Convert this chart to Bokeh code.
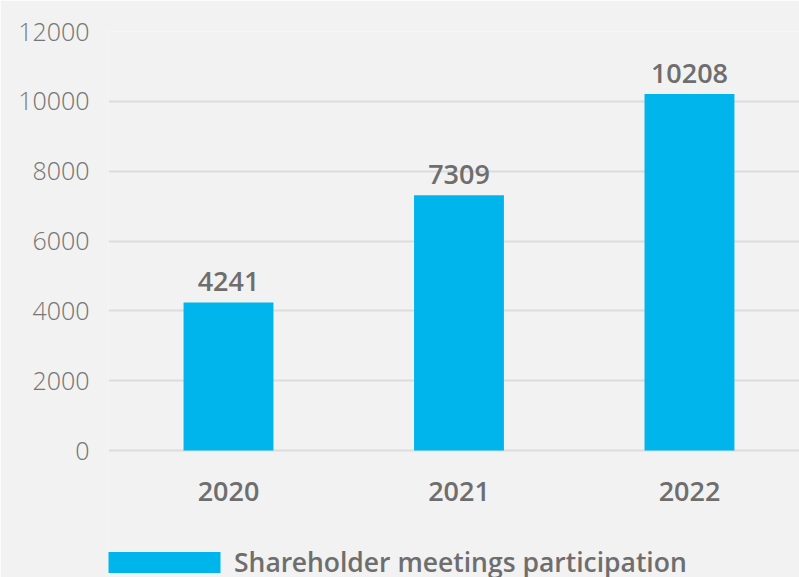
from bokeh.plotting import figure
from bokeh.models import Range1d, FixedTicker, Legend, LegendItem, ColumnDataSource
from bokeh.core.properties import value
from bokeh.embed import file_html
from bokeh.resources import INLINE

years = ["2020", "2021", "2022"]
participation = [4241, 7309, 10208]
y_ticks = [0, 2000, 4000, 6000, 8000, 10000, 12000]
series_name = "Shareholder meetings participation"

BAR = "#00b5ec"
BG = "#f2f2f2"
TXT = "#6e6e6e"
FONT_MED = "Open Sans SemiBold"
FONT_LIGHT = "Open Sans Light"

# layout: value axis 0..12000 spans 419px; frame continues 127px below 0
Y_MAX = y_ticks[-1]
Y_MIN = -Y_MAX * 127 / 419

xs = list(range(len(years)))
src = ColumnDataSource(dict(x=xs, v=participation, zero=[0] * len(xs),
                            lab=[str(v) for v in participation], year=years))

p = figure(output_backend="svg", toolbar_location=None,
           frame_width=691, frame_height=546,
           x_range=Range1d(-0.5206, 2.4774), y_range=Range1d(Y_MIN, Y_MAX),
           min_border_left=108, min_border_right=0, min_border_top=31,
           min_border_bottom=0)
p.background_fill_color = BG
p.border_fill_color = BG
p.outline_line_color = None

r = p.vbar(x="x", top="v", width=0.39, bottom=0, source=src,
           fill_color=BAR, line_color=None)
p.text(x="x", y="v", text="lab", source=src, text_align="center",
       text_baseline="bottom", y_offset=-11, text_font=value(FONT_MED),
       text_font_size="27px", text_color=TXT)
# category labels under the bars
p.text(x="x", y="zero", text="year", source=src, text_align="center",
       text_baseline="middle", y_offset=41, text_font=value(FONT_MED),
       text_font_size="27px", text_color=TXT)

p.xgrid.grid_line_color = None
p.ygrid.grid_line_color = "#dcdcdc"
p.ygrid.grid_line_width = 2
p.ygrid.ticker = FixedTicker(ticks=y_ticks)

p.xaxis.visible = False

p.yaxis.ticker = FixedTicker(ticks=y_ticks)
p.yaxis.axis_line_color = None
p.yaxis.major_tick_line_color = None
p.yaxis.minor_tick_line_color = None
p.yaxis.major_label_standoff = 13
p.yaxis.major_label_text_font = FONT_LIGHT
p.yaxis.major_label_text_font_size = "25px"
p.yaxis.major_label_text_color = "#777777"

legend = Legend(items=[LegendItem(label=series_name, renderers=[r])],
                location=(-14, -3), orientation="horizontal",
                glyph_width=140, glyph_height=26, label_standoff=0,
                label_height=26, padding=0, margin=0, spacing=0,
                background_fill_alpha=0, border_line_alpha=0,
                label_text_font=FONT_MED, label_text_font_size="26.5px",
                label_text_color=TXT)
p.add_layout(legend, "center")

open("out.html", "w").write(file_html(p, INLINE))
